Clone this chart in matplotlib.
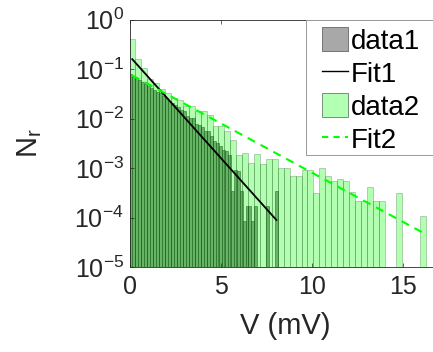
import numpy as np
import matplotlib
matplotlib.use("Agg")
import matplotlib.pyplot as plt
from matplotlib.patches import Patch, Rectangle
from matplotlib.lines import Line2D

plt.rcParams['font.family'] = ['Liberation Sans', 'DejaVu Sans']
plt.rcParams['mathtext.fontset'] = 'custom'
plt.rcParams['mathtext.rm'] = 'Liberation Sans'
plt.rcParams['mathtext.it'] = 'Liberation Sans'

# ---- data ----
# data2: bin width, values per bin (N_r); 0 = empty bin
data2_width = 0.325
data2_values = [4.1e-1, 1.6e-1, 1.05e-1, 6.2e-2, 5.2e-2, 4.0e-2, 3.2e-2, 2.6e-2, 2.35e-2, 1.8e-2,
                1.78e-2, 1.45e-2, 1.45e-2, 1.2e-2, 6.9e-3, 6.9e-3, 5.5e-3, 3.7e-3, 1.86e-3, 2.0e-3,
                1.26e-3, 1.95e-3, 1.23e-3, 1.5e-3, 1.5e-3, 1.0e-3, 1.0e-3, 7.0e-4, 6.9e-4, 8.9e-4,
                8.9e-4, 3.1e-4, 1.0e-3, 6.9e-4, 5.4e-4, 5.9e-4, 5.4e-4, 3.2e-4, 2.1e-4, 2.1e-4,
                4.1e-4, 2.1e-4, 2.1e-4, 0, 0, 3.1e-4, 0, 0, 0, 1.05e-4]
# data1: bin width, values per bin
data1_width = 0.163
data1_values = [7.9e-2, 7.1e-2, 6.6e-2, 6.0e-2, 5.4e-2, 5.0e-2, 4.5e-2, 4.2e-2, 3.8e-2, 3.4e-2,
                3.2e-2, 2.8e-2, 2.6e-2, 2.3e-2, 2.1e-2, 1.9e-2, 1.7e-2, 1.5e-2, 1.4e-2, 1.1e-2,
                1.0e-2, 1.0e-2, 7.9e-3, 7.4e-3, 6.6e-3, 5.5e-3, 5.5e-3, 4.5e-3, 3.5e-3, 3.2e-3,
                2.8e-3, 2.3e-3, 2.2e-3, 1.8e-3, 3.4e-4, 9.0e-4, 8.5e-4, 3.4e-4, 8.3e-5, 1.7e-4,
                1.7e-4, 8.3e-5, 1.7e-4, 0, 0, 0, 1.7e-4, 0, 0, 3.4e-4]
# fits: endpoints (V, N_r)
fit1_V = [0.15, 8.05]
fit1_N = [1.58e-1, 8.9e-5]
fit2_V = [0.15, 16.05]
fit2_N = [7.4e-2, 5.0e-5]

legend_labels = ['data1', 'Fit1', 'data2', 'Fit2']
xticks = [0, 5, 10, 15]
yticks = [1e-5, 1e-4, 1e-3, 1e-2, 1e-1, 1e0]

# ---- plot ----
W, H = 433, 352
fig = plt.figure(figsize=(W / 100, H / 100), dpi=100)
ax_left, ax_right, ax_top, ax_bottom = 129.5, 441.0, 19.5, 267.0
ax = fig.add_axes([ax_left / W, 1 - ax_bottom / H, (ax_right - ax_left) / W, (ax_bottom - ax_top) / H])
ax.set_yscale('log')

v1 = np.array(data1_values)
e1 = np.arange(len(v1)) * data1_width
m1 = v1 > 0
ax.bar(e1[m1], v1[m1], width=data1_width, align='edge', bottom=1e-6,
       color=(0.3, 0.3, 0.3), alpha=0.6, edgecolor=(0.15, 0.15, 0.15), linewidth=0.6)

v2 = np.array(data2_values)
e2 = np.arange(len(v2)) * data2_width
m2 = v2 > 0
ax.bar(e2[m2], v2[m2], width=data2_width, align='edge', bottom=1e-6,
       color=(0.0, 1.0, 0.0), alpha=0.3, edgecolor=(0.1, 0.3, 0.1), linewidth=0.6)

ax.plot(fit1_V, fit1_N, color='black', lw=1.3)
ax.plot(fit2_V, fit2_N, color=(0, 1, 0), lw=1.5, ls=(0, (4, 3)))

ax.set_xlim(0, (ax_right - ax_left) / 18.25)
ax.set_ylim(1e-5, 1e0)
ax.set_xticks(xticks)
ax.set_yticks(yticks)
ax.tick_params(labelsize=18, direction='in', length=3, width=0.5, colors='#262626',
               top=True, right=True, pad=4)
ax.tick_params(axis='x', pad=6)
ax.tick_params(which='minor', direction='in', length=2, width=0.4, colors='#262626', right=True)
for s in ax.spines.values():
    s.set_color('#262626')
    s.set_linewidth(0.6)
for lab in ax.get_xticklabels() + ax.get_yticklabels():
    lab.set_color('#262626')
ax.set_xlabel('V (mV)', fontsize=21, color='#262626', labelpad=9)
ax.set_ylabel(r'N$_\mathregular{r}$', fontsize=21, color='#262626', labelpad=22)

# legend box (frame drawn separately to reproduce the wide left margin)
box_l, box_t, box_b = 305.5, 19.5, 155.0
fig.patches.append(Rectangle((box_l / W, 1 - box_b / H), (W + 10 - box_l) / W, (box_b - box_t) / H,
                             transform=fig.transFigure, facecolor='white', edgecolor='#999999',
                             lw=0.7, zorder=2))
handles = [Patch(facecolor=(0.66, 0.66, 0.66), edgecolor=(0.4, 0.4, 0.4), lw=0.6),
           Line2D([], [], color='black', lw=1.0),
           Patch(facecolor=(0.7, 1.0, 0.7), edgecolor=(0.4, 0.5, 0.4), lw=0.6),
           Line2D([], [], color=(0, 1, 0), lw=1.5, ls=(0, (3, 2.5)))]
leg = fig.legend(handles, legend_labels, loc='upper left', fontsize=20, frameon=False,
                 borderpad=0.0, handlelength=0.92, handleheight=0.95, handletextpad=0.12,
                 labelspacing=0.2, borderaxespad=0.0,
                 bbox_to_anchor=(322 / W, 1 - 27 / H))
leg.set_zorder(3)

fig.savefig('out.png', dpi=100)
